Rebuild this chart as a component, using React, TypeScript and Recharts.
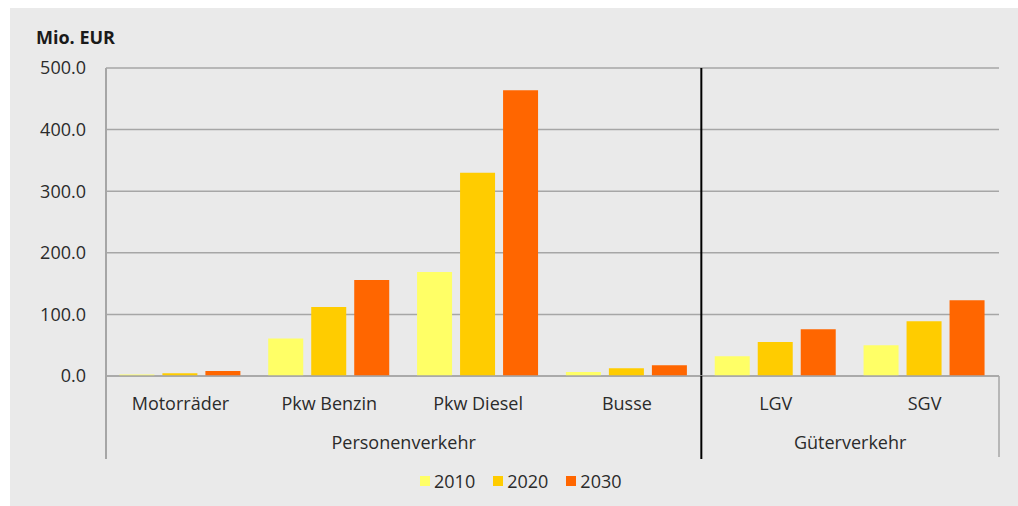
import React from 'react';
import {
  BarChart, Bar, XAxis, YAxis, CartesianGrid, Legend, ReferenceLine
} from 'recharts';

const categories = ['Motorräder', 'Pkw Benzin', 'Pkw Diesel', 'Busse', 'LGV', 'SGV'];
const values2010 = [2.5, 61, 169, 6.5, 32, 50];
const values2020 = [4.5, 112, 330, 12.5, 55, 89];
const values2030 = [8, 156, 464, 17.5, 76, 123];
const yTicks = [0, 100, 200, 300, 400, 500];
const groups = [
  { name: 'Personenverkehr', from: 0, to: 3 },
  { name: 'Güterverkehr', from: 4, to: 5 },
];
const series = [
  { key: 'y2010', name: '2010', color: '#FFFF66' },
  { key: 'y2020', name: '2020', color: '#FFCC00' },
  { key: 'y2030', name: '2030', color: '#FF6600' },
];

const data = categories.map((cat, i) => ({
  cat,
  y2010: values2010[i],
  y2020: values2020[i],
  y2030: values2030[i],
}));

const FONT = '"Open Sans", "Noto Sans", sans-serif';
const TEXT = '#2b2b2b';
const GRID = '#a6a6a6';

function CategoryTick(props: any) {
  const { x, y, payload, index } = props;
  const half = payload && payload.offset ? payload.offset : 74.4;
  const group = groups.find(g => g.from === index);
  const isLast = index === categories.length - 1;
  return (
    <g>
      <text x={x} y={y + 34} textAnchor="middle" fontSize={18} fill={TEXT} fontFamily={FONT}>
        {payload.value}
      </text>
      {group && (
        <>
          <line
            x1={x - half} x2={x - half} y1={y} y2={y + 83}
            stroke={index === 0 ? GRID : '#000'} strokeWidth={2}
          />
          <text
            x={x + (group.to - group.from) * half} y={y + 73}
            textAnchor="middle" fontSize={18} fill={TEXT} fontFamily={FONT}
          >
            {group.name}
          </text>
        </>
      )}
      {isLast && (
        <line x1={x + half} x2={x + half} y1={y} y2={y + 81} stroke={GRID} strokeWidth={1.5} />
      )}
    </g>
  );
}

function LegendContent() {
  return (
    <div style={{ display: 'flex', alignItems: 'center', fontFamily: FONT, fontSize: 18, color: TEXT }}>
      {series.map(s => (
        <div key={s.key} style={{ display: 'flex', alignItems: 'center', marginRight: 18 }}>
          <span style={{ width: 10, height: 10, background: s.color, display: 'inline-block', marginRight: 4 }} />
          <span>{s.name}</span>
        </div>
      ))}
    </div>
  );
}

export default function App() {
  return (
    <div style={{ position: 'absolute', left: 0, top: 0, width: 1018, height: 506, background: '#fff', overflow: 'hidden' }}>
      <div style={{ position: 'absolute', left: 10, top: 8, width: 1008, height: 498, background: '#eaeaea' }} />
      <div style={{
        position: 'absolute', left: 36, top: 25, fontFamily: FONT, fontSize: 18,
        fontWeight: 'bold', color: '#1a1a1a'
      }}>
        Mio. EUR
      </div>
      <div style={{ position: 'absolute', left: 0, top: 0 }}>
        <BarChart
          width={1018}
          height={506}
          data={data}
          margin={{ top: 68, right: 19, bottom: 40, left: 0 }}
          barCategoryGap="9%"
          barGap={8}
        >
          <CartesianGrid vertical={false} stroke={GRID} strokeWidth={1.5} />
          <YAxis
            width={106}
            domain={[0, 500]}
            ticks={yTicks}
            tickFormatter={(v: number) => v.toFixed(1)}
            tickLine={false}
            tickSize={0}
            tickMargin={20}
            axisLine={{ stroke: GRID, strokeWidth: 2 }}
            tick={{ fontSize: 18, fill: TEXT, fontFamily: FONT }}
          />
          <XAxis
            dataKey="cat"
            height={90}
            interval={0}
            tickLine={false}
            tickSize={0}
            tickMargin={0}
            axisLine={{ stroke: GRID, strokeWidth: 1.5 }}
            tick={(p: any) => <CategoryTick {...p} />}
          />
          {series.map(s => (
            <Bar key={s.key} dataKey={s.key} name={s.name} fill={s.color} isAnimationActive={false} />
          ))}
          <ReferenceLine x="LGV" position="start" stroke="#000" strokeWidth={2} />
          <ReferenceLine x="SGV" position="end" stroke={GRID} strokeWidth={1.5} />
          <Legend
            layout="horizontal"
            verticalAlign="middle"
            align="center"
            wrapperStyle={{ top: 469, left: 420, width: 260 }}
            content={() => <LegendContent />}
          />
        </BarChart>
      </div>
    </div>
  );
}
